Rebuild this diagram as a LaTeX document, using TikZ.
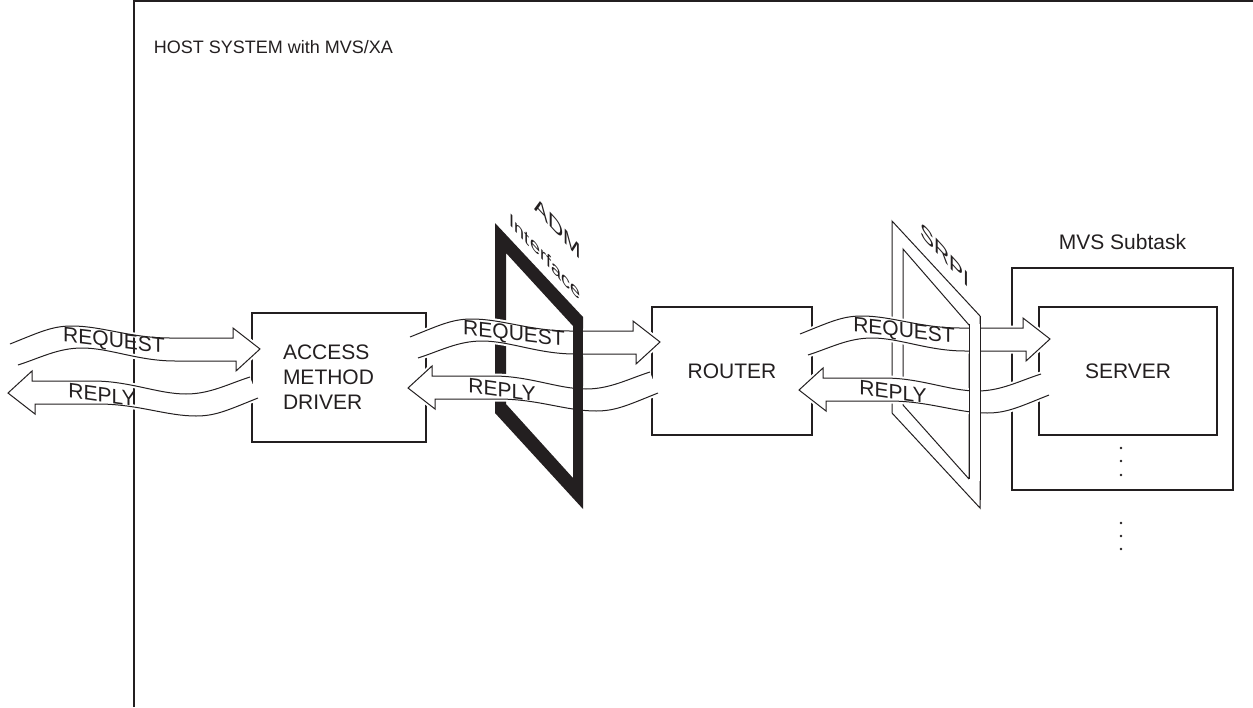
\documentclass[tikz,border=0pt]{standalone}
\usepackage{fontspec}
\setsansfont{Liberation Sans}
\usetikzlibrary{positioning}
\definecolor{ink}{HTML}{231F20}
\tikzset{
  every picture/.style={font=\sffamily, line width=1.2pt, color=ink},
  lbl/.style={font=\sffamily\fontsize{21}{25}\selectfont, text=ink},
  box/.style={draw=ink, line width=1.3pt, lbl, align=center, inner sep=0pt},
  band/.style={insert path={(0,0) .. controls (30,-12) and (42,-18) .. (62,-18) .. controls (92,-18) and (120,-6) .. (160,-6) -- (223,-6) -- (223,-16) -- (250,5) -- (226,27) -- (226,17) -- (165,17) .. controls (128,17) and (100,4) .. (72,4) .. controls (48,4) and (30,14) .. (8,21)}},
  bandline/.style={draw=ink, line width=1pt, line join=miter},
  halo/.style={draw=white, line width=5pt},
  tag/.style={lbl, inner sep=0pt},
}

\begin{document}
\begin{tikzpicture}[x=1pt, y=-1pt]
  \useasboundingbox (0,0) rectangle (1253,707);
  % the boxes
  \node[box, minimum width=174pt, minimum height=129pt, text width=112pt, align=left] (amd) at (339,377.5) {ACCESS\\METHOD\\DRIVER};
  \node[box, minimum width=160pt, minimum height=128pt] (router) at (732,371) {ROUTER};
  \node[box, minimum width=221pt, minimum height=222pt] (subtask) at (1122.5,379) {};
  \node[lbl, above=14pt of subtask] (subtasklbl) {MVS Subtask};
  \node[box, minimum width=178pt, minimum height=128pt] (server) at (1128,371) {SERVER};
  \node[lbl, font=\sffamily\fontsize{18}{22}\selectfont, anchor=base west] (hostlbl) at (150,53) {HOST SYSTEM with MVS/XA};
  \foreach \y in {448,461,475,523,536,549}
    \fill (1121,\y) circle (1.4pt);
  % the two interfaces
  \fill[ink, even odd rule] (495,223) -- (583,317) -- (583,509) -- (495,413) -- cycle
    (506,253) -- (573,326) -- (573,478) -- (506,404) -- cycle;
  \filldraw[fill=white, draw=ink, line width=1pt, even odd rule] (892,221) -- (980,316) -- (980,508) -- (892,413) -- cycle
    (903,249) -- (969,325) -- (969,479) -- (903,405) -- cycle;
  \node[lbl, yslant=-1.1] (admlbl) at (558,228) {ADM};
  \node[lbl, font=\sffamily\fontsize{18}{22}\selectfont, yslant=-1.1] (admlbl2) at (545,257) {Interface};
  \node[lbl, yslant=-1.1] (srpilbl) at (945,255) {SRPI};
  % arrow bodies
  \foreach \x/\y in {10/344, 410/337, 800/334}
    \fill[white, shift={(\x,\y)}, band] -- cycle;
  \foreach \x/\y in {258/398, 658/393, 1049/395}
    \fill[white, shift={(\x,\y)}, rotate=180, band] -- cycle;
  % host system frame
  \draw[line width=2pt] (134,707) -- (134,1) -- (1253,1);
  % arrow outlines and labels
  \foreach \x/\y [count=\i] in {10/344, 410/337, 800/334} {
    \draw[halo, shift={(\x,\y)}, band];
    \draw[bandline, shift={(\x,\y)}, band];
    \node[tag, yslant=-0.12] (req\i) at (\x+104,\y-2) {REQUEST};
  }
  \foreach \x/\y [count=\i] in {258/398, 658/393, 1049/395} {
    \draw[halo, shift={(\x,\y)}, rotate=180, band];
    \draw[bandline, shift={(\x,\y)}, rotate=180, band];
    \node[tag, yslant=-0.14] (rep\i) at (\x-156,\y-3) {REPLY};
  }
  % front bars of the interfaces
  \fill[ink] (573,325) rectangle (583,480);
  \fill[white] (969,324) rectangle (980,481);
  \draw[line width=1pt] (969,324) -- (969,479) (980,316) -- (980,500);
\end{tikzpicture}
\end{document}
